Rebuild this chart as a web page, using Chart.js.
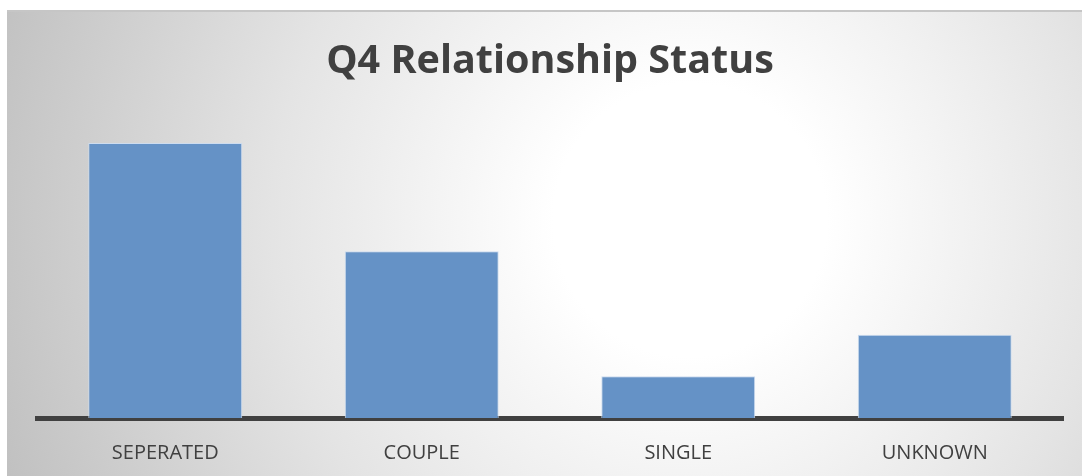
<!DOCTYPE html>
<html>
<head>
<meta charset="utf-8">
<script src="https://cdn.jsdelivr.net/npm/chart.js@4/dist/chart.umd.min.js"></script>
<style>
  html, body { margin: 0; padding: 0; background: #fff; }
  #wrap { width: 1082px; height: 476px; position: relative; }
</style>
</head>
<body>
<div id="wrap"><canvas id="mycanvas"></canvas></div>
<script>
var categories = ["SEPERATED", "COUPLE", "SINGLE", "UNKNOWN"];
var counts = [33, 20, 5, 10];
var chartTitle = "Q4 Relationship Status";

// gray radial background like the office chart area
var backgroundPlugin = {
  id: 'bg',
  beforeDraw: function(chart) {
    var ctx = chart.ctx;
    var w = chart.width, h = chart.height;
    ctx.save();
    ctx.fillStyle = '#ffffff';
    ctx.fillRect(0, 0, w, h);
    var g = ctx.createRadialGradient(690, 220, 0, 690, 220, 760);
    g.addColorStop(0, '#ffffff');
    g.addColorStop(0.18, '#ffffff');
    g.addColorStop(0.55, '#e4e4e4');
    g.addColorStop(1, '#bdbdbd');
    ctx.fillStyle = g;
    ctx.fillRect(7, 11, w - 7, h - 11);
    ctx.fillStyle = '#c6c6c6';
    ctx.fillRect(7, 10, w - 7, 2);
    ctx.restore();
  }
};

var ctx = document.getElementById('mycanvas');
var chart = new Chart(ctx, {
  type: 'bar',
  data: {
    labels: categories,
    datasets: [{
      label: 'Count',
      data: counts,
      backgroundColor: '#6592c6',
      borderColor: '#cddcef',
      borderWidth: 1,
      categoryPercentage: 1.0,
      barPercentage: 0.6
    }]
  },
  options: {
    responsive: true,
    maintainAspectRatio: false,
    animation: false,
    layout: { padding: { left: 37, right: 19, top: 38, bottom: 0 } },
    plugins: {
      legend: { display: false },
      tooltip: { enabled: false },
      title: {
        display: true,
        text: chartTitle,
        color: '#404040',
        font: { family: 'Open Sans', size: 39.5, weight: 'bold' },
        padding: { top: 0, bottom: 16 }
      }
    },
    scales: {
      x: {
        grid: { display: false, drawTicks: false },
        border: { display: true, color: '#404040', width: 5 },
        ticks: {
          color: '#404040',
          font: { family: 'Open Sans', size: 20 },
          padding: 23
        },
        afterFit: function(scale) { scale.height = 58; }
      },
      y: {
        display: false,
        min: 0,
        max: 38
      }
    }
  },
  plugins: [backgroundPlugin]
});
</script>
</body>
</html>
